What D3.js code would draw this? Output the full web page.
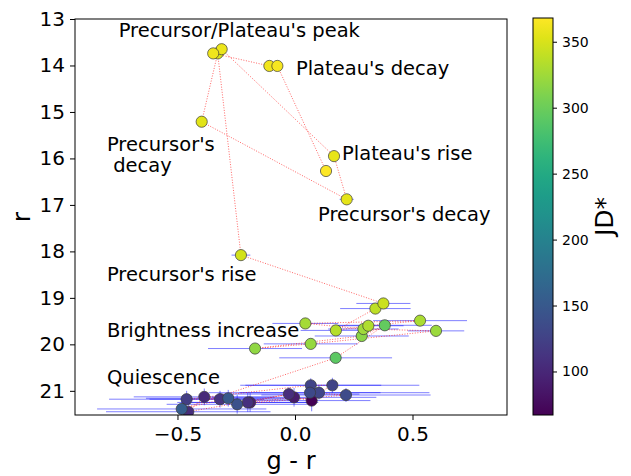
<!DOCTYPE html>
<html>
<head>
<meta charset="utf-8">
<script src="https://cdn.jsdelivr.net/npm/d3@7"></script>
<style>
  body { margin: 0; background: #fff; }
  svg { font-family: "DejaVu Sans", sans-serif; }
</style>
</head>
<body>
<div id="chart"></div>
<script>
// observations, in time order (JD* = days)
var jd = [67, 90, 91, 103, 105, 106, 109, 112, 121, 127, 128, 130, 133, 136, 142, 150, 155,
          292, 296, 316, 318, 320, 323, 325, 327, 330, 332, 334, 338, 344,
          348, 352, 354, 356, 357, 359, 360, 362, 364, 368];
var gr = [0.071, -0.004, -0.191, -0.386, -0.454, -0.026, -0.201, -0.319, -0.461, 0.067, 0.159, 0.102, 0.064, 0.217, -0.246, -0.284, -0.482,
          0.173, 0.382, 0.284, -0.170, 0.067, 0.600, 0.291, 0.044, 0.532, 0.312, 0.174, 0.342, 0.376,
          -0.230, -0.329, -0.397, 0.220, 0.166, -0.312, -0.348, -0.109, -0.075, 0.132];
var rmag = [21.21, 21.14, 21.25, 21.13, 21.45, 21.07, 21.25, 21.18, 21.18, 20.88, 20.88, 21.04, 21.04, 21.09, 21.29, 21.16, 21.39,
            20.29, 19.59, 19.82, 20.09, 19.99, 19.71, 19.67, 19.55, 19.49, 19.60, 19.70, 19.23, 19.12,
            18.08, 13.74, 15.21, 16.88, 15.95, 13.65, 13.74, 14.01, 14.01, 16.27];
var grErr = [0.25, 0.35, 0.25, 0.3, 0.35, 0.3, 0.3, 0.3, 0.33, 0.3, 0.37, 0.47, 0.3, 0.36, 0.3, 0.35, 0.36,
             0.24, 0.2, 0.2, 0.2, 0.2, 0.12, 0.15, 0.14, 0.2, 0.15, 0.15, 0.15, 0.115,
             0.04, 0.02, 0.02, 0.03, 0.02, 0.02, 0.02, 0.02, 0.02, 0.02];
var rErr = [0.23, 0.2, 0.2, 0.18, 0.2, 0.15, 0.2, 0.18, 0.18, 0.15, 0.16, 0.15, 0.15, 0.15, 0.2, 0.18, 0.2,
            0.05, 0.04, 0.04, 0.05, 0.04, 0.04, 0.04, 0.04, 0.04, 0.04, 0.04, 0.03, 0.03,
            0.02, 0.01, 0.01, 0.01, 0.01, 0.01, 0.01, 0.01, 0.01, 0.01];

// phase labels (data coordinates)
var phaseText = ["Precursor/Plateau's peak", "Plateau's decay", "Precursor's\n decay", "Plateau's rise",
                 "Precursor's decay", "Precursor's rise", "Brightness increase", "Quiescence"];
var phaseX = [-0.75, 0.004, -0.80, 0.20, 0.098, -0.80, -0.80, -0.80];
var phaseY = [13.39, 14.2, 15.84, 16.04, 17.35, 18.64, 19.845, 20.856];

var xTicks = [-0.5, 0.0, 0.5];
var yTicks = [13, 14, 15, 16, 17, 18, 19, 20, 21];
var cTicks = [100, 150, 200, 250, 300, 350];

var data = jd.map(function(d, i) {
  return { jd: d, gr: gr[i], r: rmag[i], ex: grErr[i], ey: rErr[i] };
});

var svgWidth = 631, svgHeight = 476;
var margin = { top: 19, left: 75 };
var width = 432, height = 396;

var svg = d3.select("#chart").append("svg")
  .attr("width", svgWidth)
  .attr("height", svgHeight);
svg.append("rect").attr("width", svgWidth).attr("height", svgHeight).attr("fill", "#fff");

var g = svg.append("g").attr("transform", `translate(${margin.left}, ${margin.top})`);

var x = d3.scaleLinear().domain([-0.936, 0.902]).range([0, width]);
var y = d3.scaleLinear().domain([13, 21.52]).range([0, height]);
var color = d3.scaleSequential(d3.interpolateViridis).domain([67, 368]);

g.append("clipPath").attr("id", "clip")
  .append("rect").attr("width", width).attr("height", height);
var plot = g.append("g").attr("clip-path", "url(#clip)");

// error bars
var eb = plot.append("g").attr("stroke", "blue").attr("stroke-opacity", 0.5).attr("stroke-width", 1);
eb.selectAll(".ex").data(data).enter().append("line")
  .attr("x1", d => x(d.gr - d.ex)).attr("x2", d => x(d.gr + d.ex))
  .attr("y1", d => y(d.r)).attr("y2", d => y(d.r));
eb.selectAll(".ey").data(data).enter().append("line")
  .attr("x1", d => x(d.gr)).attr("x2", d => x(d.gr))
  .attr("y1", d => y(d.r - d.ey)).attr("y2", d => y(d.r + d.ey));

// time track
var line = d3.line().x(d => x(d.gr)).y(d => y(d.r));
plot.append("path")
  .datum(data)
  .attr("d", line)
  .attr("fill", "none")
  .attr("stroke", "red")
  .attr("stroke-opacity", 0.6)
  .attr("stroke-width", 1)
  .attr("stroke-dasharray", "1,1.6");

// points
plot.selectAll("circle").data(data).enter().append("circle")
  .attr("cx", d => x(d.gr))
  .attr("cy", d => y(d.r))
  .attr("r", 5.6)
  .attr("fill", d => color(d.jd))
  .attr("stroke", "#3a3a3a")
  .attr("stroke-width", 0.7);

// labels
phaseText.forEach(function(t, i) {
  var txt = g.append("text")
    .attr("x", x(phaseX[i]))
    .attr("y", y(phaseY[i]))
    .style("font-size", "19.5px")
    .attr("fill", "#000")
    .attr("xml:space", "preserve");
  t.split("\n").forEach(function(part, k) {
    txt.append("tspan")
      .attr("x", x(phaseX[i]))
      .attr("dy", k === 0 ? 0 : "1.08em")
      .text(part);
  });
});

// axes
var bottomAxis = d3.axisBottom(x).tickValues(xTicks).tickFormat(d3.format(".1f")).tickSize(5).tickPadding(6.5);
var leftAxis = d3.axisLeft(y).tickValues(yTicks).tickFormat(d3.format("d")).tickSize(5).tickPadding(5);

var xa = g.append("g").attr("transform", `translate(0, ${height})`).call(bottomAxis);
var ya = g.append("g").call(leftAxis);
[xa, ya].forEach(function(a) {
  a.select(".domain").remove();
  a.selectAll("text").style("font-size", "20px").style("font-family", "DejaVu Sans").attr("fill", "#000");
  a.selectAll("line").attr("stroke", "#000");
});

g.append("rect")
  .attr("width", width).attr("height", height)
  .attr("fill", "none").attr("stroke", "#000").attr("stroke-width", 1);

svg.append("text")
  .attr("transform", `translate(${margin.left + width / 2}, 469)`)
  .style("text-anchor", "middle")
  .style("font-size", "24px")
  .text("g - r");

svg.append("text")
  .attr("transform", `translate(30, ${margin.top + height / 2}) rotate(-90)`)
  .style("text-anchor", "middle")
  .style("font-size", "25px")
  .text("r");

// colorbar
var cb = svg.append("g").attr("transform", "translate(533, 18)");
var cbW = 20, cbH = 397;
var grad = svg.append("defs").append("linearGradient")
  .attr("id", "vir").attr("x1", 0).attr("y1", 1).attr("x2", 0).attr("y2", 0);
d3.range(0, 1.0001, 0.05).forEach(function(t) {
  grad.append("stop").attr("offset", t).attr("stop-color", d3.interpolateViridis(t));
});
cb.append("rect").attr("width", cbW).attr("height", cbH)
  .attr("fill", "url(#vir)").attr("stroke", "#000").attr("stroke-width", 1);

var cy = d3.scaleLinear().domain([67, 368]).range([cbH, 0]);
var cAxis = d3.axisRight(cy).tickValues(cTicks).tickSize(4).tickPadding(5);
var ca = cb.append("g").attr("transform", `translate(${cbW}, 0)`).call(cAxis);
ca.select(".domain").remove();
ca.selectAll("text").style("font-size", "14px").style("font-family", "DejaVu Sans").attr("fill", "#000");

svg.append("text")
  .attr("transform", `translate(613, ${18 + cbH / 2}) rotate(-90)`)
  .style("text-anchor", "middle")
  .style("font-size", "25px")
  .text("JD*");
</script>
</body>
</html>
